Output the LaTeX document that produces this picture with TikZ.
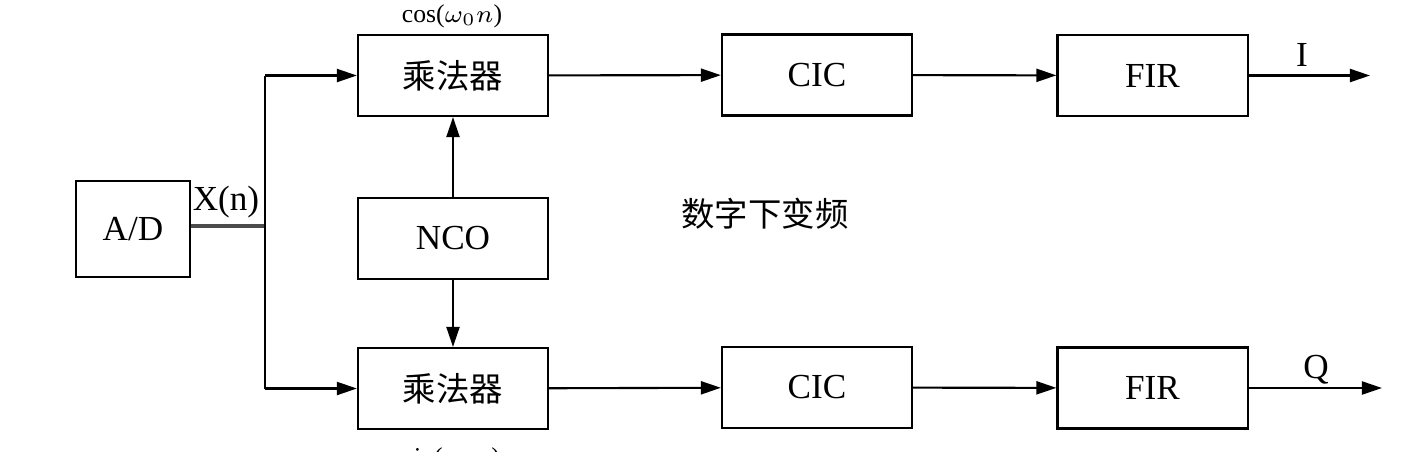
\documentclass[tikz,border=0pt]{standalone}
\usepackage{fontspec}
\setmainfont{Liberation Serif}
\newfontfamily\cjk{Noto Sans CJK SC}
\usetikzlibrary{arrows.meta}
\begin{document}
\begin{tikzpicture}[x=0.01cm,y=-0.01cm,
  blk/.style={draw,line width=0.6pt,minimum width=1.9cm,minimum height=0.81cm,inner sep=0pt,font=\fontsize{10}{12}\selectfont},
  ad/.style={draw,line width=0.6pt,minimum width=1.14cm,minimum height=0.96cm,inner sep=0pt,font=\fontsize{10}{12}\selectfont},
  conn/.style={line width=0.6pt},
  arr/.style={line width=0.6pt,-{Triangle[length=0.2cm,width=0.13cm]}},
  lbl/.style={inner sep=0pt,font=\fontsize{10}{12}\selectfont}]
\useasboundingbox (0,0) rectangle (1405,451);
\node[ad] (ad) at (133,229) {A/D};
\node[blk] (m1) at (453,75.5) {\cjk\fontsize{9.5}{12}\selectfont 乘法器};
\node[blk] (nco) at (453,238.5) {NCO};
\node[blk] (m2) at (453,388.5) {\cjk\fontsize{9.5}{12}\selectfont 乘法器};
\node[blk] (c1) at (817,75) {CIC};
\node[blk] (c2) at (817,387.5) {CIC};
\node[blk] (f1) at (1152.5,75.5) {FIR};
\node[blk] (f2) at (1152.5,388) {FIR};
\coordinate (j) at (265,226);
\coordinate (jt) at (265,75.5);
\coordinate (jb) at (265,388.5);
\coordinate (o1) at (1370,75.5);
\coordinate (o2) at (1382,388);
\draw[line width=0.9pt,black!70] (ad.east |- j) -- (j);
\draw[conn] (jt) -- (jb);
\draw[arr] (jt) -- (m1.west);
\draw[arr] (jb) -- (m2.west);
\draw[arr] (nco.north) -- (m1.south);
\draw[arr] (nco.south) -- (m2.north);
\draw[arr] (m1) -- (c1);
\draw[arr] (m2) -- (c2);
\draw[arr] (c1) -- (f1);
\draw[arr] (c2) -- (f2);
\draw[arr] (f1.east) -- (o1);
\draw[arr] (f2.east) -- (o2);
\node[lbl] (xn) at (226,202) {X(n)};
\node[lbl] (il) at (1302,55) {I};
\node[lbl] (ql) at (1316,370) {Q};
\node[lbl,font=\fontsize{7.3}{9}\selectfont] (cosl) at (452,16) {cos($\omega_0 n$)};
\node[lbl,font=\fontsize{7.3}{9}\selectfont] (sinl) at (452,459) {sin($\omega_0 n$)};
\node[lbl,font=\cjk\fontsize{9.5}{12}\selectfont] (ddc) at (765,214) {数字下变频};
\end{tikzpicture}
\end{document}
